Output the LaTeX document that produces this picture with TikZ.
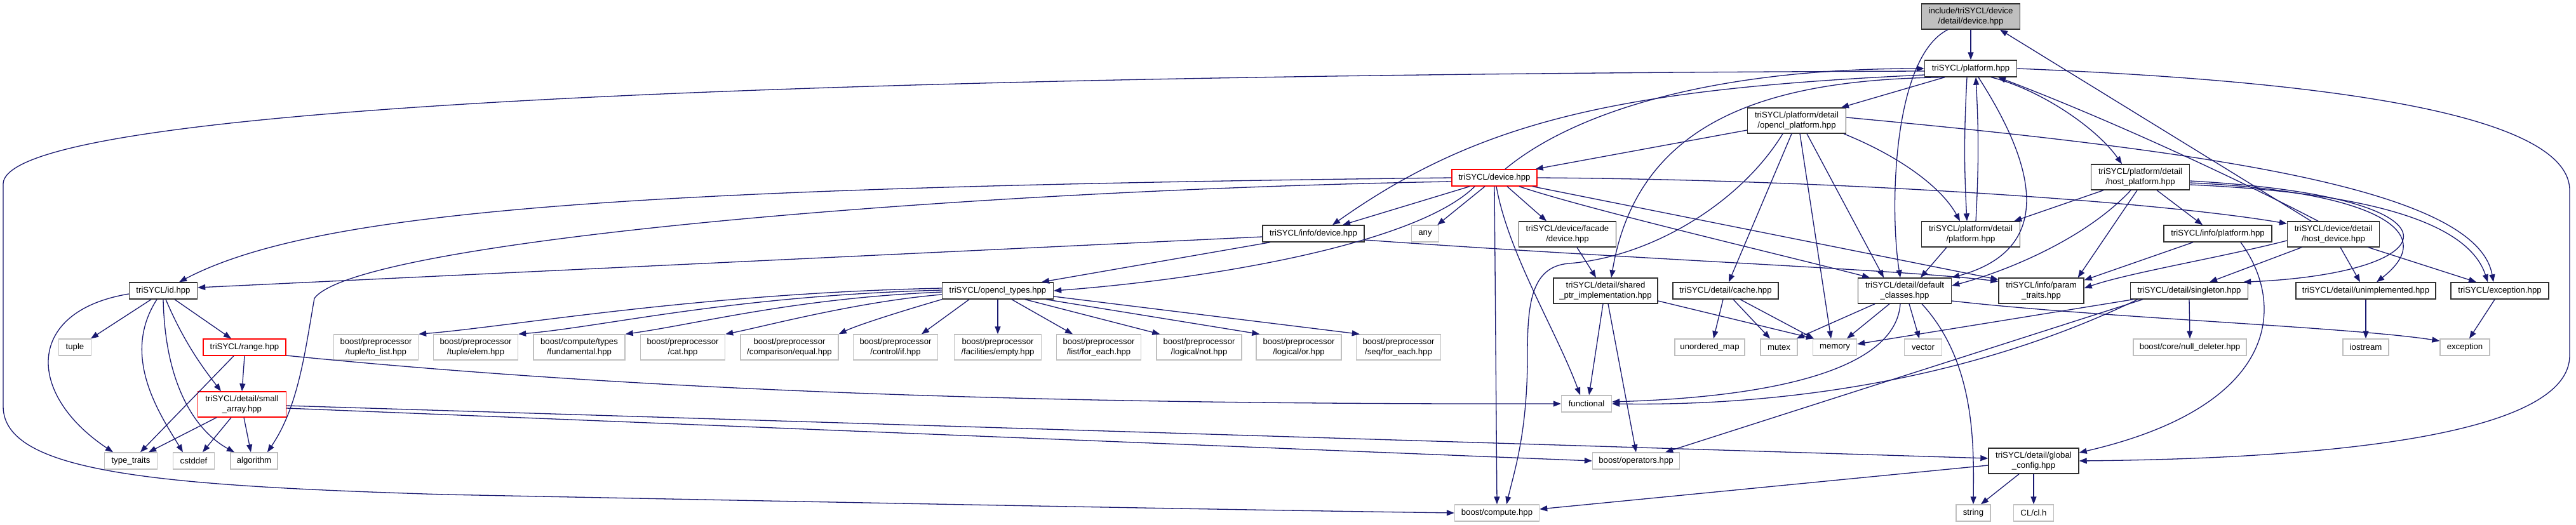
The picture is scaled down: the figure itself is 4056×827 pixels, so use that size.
\documentclass[tikz,border=0pt]{standalone}
\usepackage{fontspec}
\setmainfont{Liberation Sans}
\usetikzlibrary{arrows.meta}
\definecolor{edgeblue}{HTML}{191970}
\definecolor{extgray}{HTML}{BFBFBF}
\definecolor{docgray}{HTML}{303030}
\newcommand\nodefont{\fontsize{13.2}{15.5}\selectfont}
\begin{document}
\begin{tikzpicture}[x=1pt,y=1pt,
  box/.style={rectangle,inner sep=0pt,line width=1.4pt,font=\nodefont,align=center},
  doc/.style={box,draw=docgray},
  ext/.style={box,draw=extgray},
  trunc/.style={box,draw=red},
  rootnode/.style={box,draw=docgray,fill=extgray},
  h1/.style={minimum height=26pt},
  h2/.style={minimum height=40pt},
  dep/.style={draw=edgeblue,line width=1.3pt,-{Triangle[length=12pt,width=9pt]}}]
\fill[white] (0,0) rectangle (4056,-827);
\useasboundingbox (0,0) rectangle (4056,-827);
% ---------------- nodes ----------------
\node[rootnode,h2,minimum width=155pt] (R) at (3103,-26) {include/triSYCL/device\\/detail/device.hpp};
\node[doc,h1,minimum width=145pt] (P) at (3103,-108) {triSYCL/platform.hpp};
\node[doc,h2,minimum width=155pt] (OP) at (2829,-190) {triSYCL/platform/detail\\/opencl\_platform.hpp};
\node[trunc,h1,minimum width=134pt] (D) at (2353,-280) {triSYCL/device.hpp};
\node[doc,h2,minimum width=155pt] (HP) at (3370,-279) {triSYCL/platform/detail\\/host\_platform.hpp};
\node[doc,h2,minimum width=155pt] (PDP) at (3103,-369) {triSYCL/platform/detail\\/platform.hpp};
\node[doc,h1,minimum width=160pt] (ID) at (2068,-368) {triSYCL/info/device.hpp};
\node[ext,h1,minimum width=43pt] (ANY) at (2244,-368) {any};
\node[doc,h2,minimum width=153pt] (FD) at (2468,-369) {triSYCL/device/facade\\/device.hpp};
\node[doc,h1,minimum width=170pt] (IP) at (3492,-368) {triSYCL/info/platform.hpp};
\node[doc,h2,minimum width=145pt] (HD) at (3674,-369) {triSYCL/device/detail\\/host\_device.hpp};
\node[doc,h1,minimum width=107pt] (IDH) at (257,-458) {triSYCL/id.hpp};
\node[doc,h1,minimum width=175pt] (OT) at (1571,-458) {triSYCL/opencl\_types.hpp};
\node[doc,h2,minimum width=164pt] (SP) at (2528,-458) {triSYCL/detail/shared\\\_ptr\_implementation.hpp};
\node[doc,h1,minimum width=166pt] (CA) at (2717,-458) {triSYCL/detail/cache.hpp};
\node[doc,h2,minimum width=147pt] (DC) at (2999,-458) {triSYCL/detail/default\\\_classes.hpp};
\node[doc,h2,minimum width=134pt] (PT) at (3214,-458) {triSYCL/info/param\\\_traits.hpp};
\node[doc,h1,minimum width=185pt] (SG) at (3447,-458) {triSYCL/detail/singleton.hpp};
\node[doc,h1,minimum width=220pt] (UN) at (3725,-458) {triSYCL/detail/unimplemented.hpp};
\node[doc,h1,minimum width=154pt] (EH) at (3936,-458) {triSYCL/exception.hpp};
\node[ext,h1,minimum width=51pt] (TU) at (118,-547) {tuple};
\node[trunc,h1,minimum width=130pt] (RG) at (385,-547) {triSYCL/range.hpp};
\node[ext,h2,minimum width=133pt] (TL) at (592,-547) {boost/preprocessor\\/tuple/to\_list.hpp};
\node[ext,h2,minimum width=133pt] (TE) at (749,-547) {boost/preprocessor\\/tuple/elem.hpp};
\node[ext,h2,minimum width=144pt] (CT) at (912,-547) {boost/compute/types\\/fundamental.hpp};
\node[ext,h2,minimum width=133pt] (CAT) at (1075,-547) {boost/preprocessor\\/cat.hpp};
\node[ext,h2,minimum width=154pt] (CE) at (1243,-547) {boost/preprocessor\\/comparison/equal.hpp};
\node[ext,h2,minimum width=133pt] (CIF) at (1410,-547) {boost/preprocessor\\/control/if.hpp};
\node[ext,h2,minimum width=137pt] (FE) at (1571,-547) {boost/preprocessor\\/facilities/empty.hpp};
\node[ext,h2,minimum width=133pt] (LFE) at (1730,-547) {boost/preprocessor\\/list/for\_each.hpp};
\node[ext,h2,minimum width=134pt] (LN) at (1888,-547) {boost/preprocessor\\/logical/not.hpp};
\node[ext,h2,minimum width=134pt] (LO) at (2045,-547) {boost/preprocessor\\/logical/or.hpp};
\node[ext,h2,minimum width=133pt] (SFE) at (2202,-547) {boost/preprocessor\\/seq/for\_each.hpp};
\node[ext,h1,minimum width=110pt] (UM) at (2692,-547) {unordered\_map};
\node[ext,h1,minimum width=58pt] (MU) at (2801,-547) {mutex};
\node[ext,h1,minimum width=69pt] (ME) at (2889,-547) {memory};
\node[ext,h1,minimum width=59pt] (VE) at (3028,-547) {vector};
\node[ext,h1,minimum width=178pt] (ND) at (3448,-547) {boost/core/null\_deleter.hpp};
\node[ext,h1,minimum width=72pt] (IO) at (3725,-547) {iostream};
\node[ext,h1,minimum width=78pt] (EX) at (3881,-547) {exception};
\node[trunc,h2,minimum width=139pt] (SA) at (381,-637) {triSYCL/detail/small\\\_array.hpp};
\node[ext,h1,minimum width=79pt] (FN) at (2498,-636) {functional};
\node[ext,h1,minimum width=83pt] (TT) at (206,-726) {type\_traits};
\node[ext,h1,minimum width=65pt] (CD) at (305,-726) {cstddef};
\node[ext,h1,minimum width=74pt] (AL) at (400,-726) {algorithm};
\node[ext,h1,minimum width=137pt] (OPS) at (2576,-726) {boost/operators.hpp};
\node[doc,h2,minimum width=142pt] (GC) at (3202,-726) {triSYCL/detail/global\\\_config.hpp};
\node[ext,h1,minimum width=133pt] (BC) at (2357,-808) {boost/compute.hpp};
\node[ext,h1,minimum width=54pt] (ST) at (3107,-808) {string};
\node[ext,h1,minimum width=63pt] (CL) at (3202,-808) {CL/cl.h};
% ---------------- edges ----------------
% root
\draw[dep] (R) -- (P);
\draw[dep] ([xshift=-36pt]R.south) .. controls (2980,-90) and (2975,-330) .. ([xshift=-7pt]DC.north);
% host_device up
\draw[dep] ([xshift=-35pt]HD.north) -- ([xshift=46pt]R.south);
\draw[dep] ([xshift=-24pt]HD.north) .. controls (3500,-270) and (3300,-180) .. ([xshift=43pt]P.south);
% platform.hpp
\draw[dep] ([xshift=-41pt]P.south) -- ([xshift=70pt]OP.north);
\draw[dep] ([xshift=-6pt]P.south) to[bend right=3] ([xshift=-6pt]PDP.north);
\draw[dep] ([xshift=8pt]PDP.north) to[bend right=3] ([xshift=8pt]P.south);
\draw[dep] ([xshift=32pt]P.south) .. controls (3210,-140) and (3300,-200) .. ([xshift=-29pt]HP.north);
\draw[dep] ([xshift=12pt]P.south) .. controls (3230,-300) and (3210,-400) .. (DC.north east);
\draw[dep] (P.east) .. controls (3600,-125) and (4046,-170) .. (4046,-300) -- (4046,-560) .. controls (4046,-680) and (3700,-722) .. (GC.east);
\draw[dep] ([yshift=-4pt]P.west) .. controls (1200,-118) and (5,-170) .. (5,-290) -- (5,-640) .. controls (5,-745) and (250,-765) .. (700,-779) .. controls (1500,-795) and (2000,-804) .. (BC.west);
\draw[dep] ([xshift=17pt]D.north) .. controls (2480,-175) and (2700,-108) .. (P.west);
\draw[dep] ([yshift=-10pt]P.west) .. controls (2550,-140) and (2330,-190) .. ([xshift=30pt]ID.north);
\draw[dep] ([xshift=-41pt]P.south) .. controls (2800,-125) and (2580,-180) .. ([xshift=9pt]SP.north);
% opencl_platform
\draw[dep] ([yshift=-15pt]OP.west) -- ([xshift=-3pt]D.north east);
\draw[dep] ([xshift=-22pt]OP.south) .. controls (2740,-320) and (2600,-405) .. (2470,-415) .. controls (2410,-420) and (2405,-480) .. (2405,-560) .. controls (2405,-680) and (2385,-740) .. ([xshift=15pt]BC.north);
\draw[dep] ([xshift=-8pt]OP.south) -- ([xshift=5pt]CA.north);
\draw[dep] ([xshift=5pt]OP.south) -- ([xshift=-6pt]ME.north);
\draw[dep] ([xshift=16pt]OP.south) -- ([xshift=-33pt]DC.north);
\draw[dep] ([xshift=74pt]OP.south) .. controls (3000,-250) and (3060,-300) .. ([xshift=-17pt]PDP.north);
\draw[dep] ([yshift=5pt]OP.east) .. controls (3500,-240) and (3900,-300) .. ([xshift=-10pt]EH.north);
% host_platform
\draw[dep] ([xshift=-58pt]HP.south) -- ([xshift=-10pt]PDP.north east);
\draw[dep] ([xshift=-15pt]HP.south) .. controls (3280,-380) and (3150,-430) .. ([yshift=8pt]DC.east);
\draw[dep] ([xshift=-5pt]HP.south) -- ([xshift=-10pt]PT.north east);
\draw[dep] ([xshift=26pt]HP.south) -- ([xshift=-24pt]IP.north);
\draw[dep] ([yshift=-6pt]HP.east) .. controls (3900,-310) and (3860,-430) .. ([xshift=-8pt]SG.north east);
\draw[dep] ([yshift=-9pt]HP.east) .. controls (3720,-300) and (3850,-360) .. ([xshift=17pt]UN.north);
\draw[dep] ([yshift=-12pt]HP.east) .. controls (3650,-300) and (3880,-330) .. ([xshift=-19pt]EH.north);
% platform/detail/platform
\draw[dep] ([xshift=-38pt]PDP.south) -- ([xshift=25pt]DC.north);
% info/device
\draw[dep] ([yshift=-5pt]ID.west) -- ([yshift=5pt]IDH.east);
\draw[dep] ([xshift=-68pt]ID.south) -- ([xshift=69pt]OT.north);
\draw[dep] ([yshift=-10pt]ID.east) .. controls (2600,-410) and (3000,-425) .. ([yshift=-6pt]PT.north west);
% device.hpp
\draw[dep] (D.west) .. controls (1000,-295) and (500,-330) .. ([xshift=25pt]IDH.north);
\draw[dep] ([yshift=-6pt]D.west) .. controls (1500,-300) and (560,-380) .. (495,-470) .. controls (480,-555) and (470,-640) .. ([xshift=21pt]AL.north);
\draw[dep] ([xshift=-39pt]D.south) -- ([xshift=46pt]ID.north);
\draw[dep] ([xshift=-15pt]D.south) -- ([xshift=-3pt]ANY.north east);
\draw[dep] (D.south) -- (BC.north);
\draw[dep] ([xshift=3pt]D.south) .. controls (2375,-400) and (2450,-520) .. ([xshift=-10pt]FN.north);
\draw[dep] ([xshift=20pt]D.south) -- ([xshift=-33pt]FD.north);
\draw[dep] ([xshift=-31pt]D.south) .. controls (2230,-385) and (1900,-440) .. (OT.east);
\draw[dep] (D.east) .. controls (2900,-283) and (3400,-318) .. ([yshift=-4pt]HD.north west);
\draw[dep] ([xshift=39pt]D.south) .. controls (2500,-330) and (2800,-400) .. ([xshift=-55pt]DC.north);
\draw[dep] ([xshift=60pt]D.south) -- ([yshift=-3pt]PT.north west);
% facade
\draw[dep] ([xshift=15pt]FD.south) -- ([xshift=-15pt]SP.north);
% id.hpp
\draw[dep] ([xshift=-19pt]IDH.south) -- ([xshift=25pt]TU.north);
\draw[dep] ([xshift=18pt]IDH.south) -- ([xshift=-21pt]RG.north);
\draw[dep] ([xshift=4pt]IDH.south) .. controls (290,-540) and (320,-580) .. ([xshift=-33pt]SA.north);
\draw[dep] ([yshift=-5pt]IDH.west) .. controls (40,-490) and (40,-620) .. ([xshift=-28pt]TT.north);
\draw[dep] ([xshift=-10pt]IDH.south) .. controls (190,-560) and (250,-650) .. ([xshift=-17pt]CD.north);
\draw[dep] (IDH.south) .. controls (260,-610) and (310,-680) .. ([xshift=-31pt]AL.north);
% range
\draw[dep] ([xshift=-17pt]RG.south) -- ([xshift=15pt]TT.north);
\draw[dep] (RG.south) -- (SA.north);
\draw[dep] ([yshift=-13pt]RG.east) .. controls (1100,-625) and (1800,-637) .. (FN.west);
% small_array
\draw[dep] ([xshift=-40pt]SA.south) -- ([xshift=28pt]TT.north);
\draw[dep] ([xshift=-17pt]SA.south) -- ([xshift=14pt]CD.north);
\draw[dep] ([xshift=3pt]SA.south) -- ([xshift=-5pt]AL.north);
\draw[dep] ([yshift=-6pt]SA.east) -- (OPS.west);
\draw[dep] ([yshift=-2pt]SA.east) -- ([yshift=4pt]GC.west);
% opencl_types
\draw[dep] ([yshift=4pt]OT.west) .. controls (1100,-462) and (800,-515) .. (TL.north east);
\draw[dep] ([yshift=1pt]OT.west) .. controls (1150,-466) and (950,-515) .. (TE.north east);
\draw[dep] ([yshift=-2pt]OT.west) .. controls (1250,-470) and (1100,-510) .. (CT.north east);
\draw[dep] ([yshift=-6pt]OT.west) .. controls (1350,-475) and (1200,-515) .. (CAT.north east);
\draw[dep] (OT.south west) .. controls (1420,-490) and (1350,-512) .. (CE.north east);
\draw[dep] ([xshift=-45pt]OT.south) -- ([xshift=41pt]CIF.north);
\draw[dep] (OT.south) -- (FE.north);
\draw[dep] ([xshift=22pt]OT.south) -- ([xshift=-41pt]LFE.north);
\draw[dep] ([xshift=43pt]OT.south) -- ([xshift=6pt]LN.north west);
\draw[dep] ([xshift=76pt]OT.south) -- ([xshift=6pt]LO.north west);
\draw[dep] ([yshift=-9pt]OT.east) -- ([xshift=6pt]SFE.north west);
% shared_ptr
\draw[dep] ([xshift=-4pt]SP.south) -- ([xshift=4pt]FN.north);
\draw[dep] ([xshift=4pt]SP.south) -- (OPS.north);
\draw[dep] ([yshift=-16pt]SP.east) -- ([xshift=2pt]ME.north west);
% cache
\draw[dep] ([xshift=-4pt]CA.south) -- ([xshift=6pt]UM.north);
\draw[dep] ([xshift=12pt]CA.south) -- ([xshift=-14pt]MU.north);
\draw[dep] ([xshift=23pt]CA.south) -- ([xshift=2pt]ME.north west);
% default_classes
\draw[dep] ([xshift=-47pt]DC.south) -- ([xshift=-2pt]MU.north east);
\draw[dep] ([xshift=-24pt]DC.south) -- ([xshift=19pt]ME.north);
\draw[dep] ([xshift=-7pt]DC.south) .. controls (2985,-580) and (2800,-625) .. ([yshift=3pt]FN.east);
\draw[dep] ([xshift=7pt]DC.south) -- ([xshift=-6pt]VE.north);
\draw[dep] ([xshift=27pt]DC.south) .. controls (3110,-570) and (3108,-700) .. (ST.north);
\draw[dep] ([yshift=-16pt]DC.east) .. controls (3300,-500) and (3700,-515) .. ([yshift=10pt]EX.west);
% leaves
\draw[dep] ([xshift=-8pt]EH.south) -- ([xshift=7pt]EX.north);
\draw[dep] (UN.south) -- (IO.north);
\draw[dep] (SG.south) -- (ND.north);
% global_config
\draw[dep] ([yshift=-7pt]GC.west) -- ([yshift=6pt]BC.east);
\draw[dep] ([xshift=-23pt]GC.south) -- ([xshift=12pt]ST.north);
\draw[dep] (GC.south) -- (CL.north);
% info/platform
\draw[dep] ([xshift=36pt]IP.south) .. controls (3600,-480) and (3590,-640) .. ([yshift=13pt]GC.east);
\draw[dep] ([xshift=-39pt]IP.south) -- ([yshift=-4pt]PT.north east);
% host_device
\draw[dep] ([yshift=-10pt]HD.west) .. controls (3500,-405) and (3350,-430) .. ([yshift=4pt]PT.east);
\draw[dep] ([xshift=-50pt]HD.south) -- ([xshift=32pt]SG.north);
\draw[dep] ([xshift=11pt]HD.south) -- ([xshift=-9pt]UN.north);
\draw[dep] ([xshift=55pt]HD.south) -- ([xshift=-37pt]EH.north);
% singleton
\draw[dep] ([xshift=5pt]SG.south west) -- ([yshift=5pt]ME.east);
\draw[dep] ([xshift=12pt]SG.south west) .. controls (3100,-600) and (2800,-640) .. (FN.east);
\draw[dep] ([xshift=20pt]SG.south west) -- ([xshift=-23pt]OPS.north east);
\end{tikzpicture}
\end{document}
